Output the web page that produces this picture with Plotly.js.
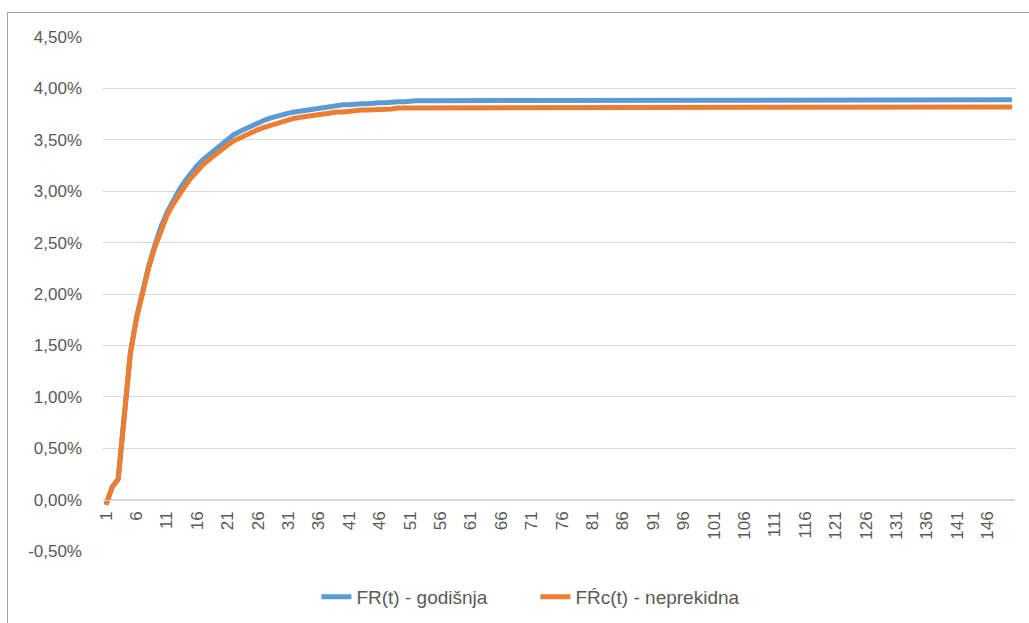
<!DOCTYPE html>
<html>
<head>
<meta charset="utf-8">
<script src="https://cdn.plot.ly/plotly-3.0.1.min.js"></script>
<style>
  html, body { margin: 0; padding: 0; width: 1029px; height: 623px; overflow: hidden; background: #ffffff; }
  #frame { position: absolute; left: 7px; top: 12px; width: 1100px; height: 700px; border: 1px solid #a6a6a6; box-sizing: border-box; }
  #chart { position: absolute; left: 0; top: 0; width: 1029px; height: 623px; }
</style>
</head>
<body>
<div id="frame"></div>
<div id="chart"></div>
<script>
// Series names
const seriesNames = ["FR(t) - godišnja", "FŔc(t) - neprekidna"];

// FR(t) - godišnja (values in %)
const frGodisnja = [
  -0.05, 0.12, 0.20, 0.86, 1.43, 1.77, 2.04, 2.27, 2.47, 2.65,
  2.79, 2.91, 3.01, 3.10, 3.18, 3.25, 3.31, 3.36, 3.41, 3.46,
  3.51, 3.55, 3.58, 3.61, 3.64, 3.67, 3.69, 3.71, 3.73, 3.75,
  3.76, 3.77, 3.78, 3.79, 3.80, 3.81, 3.82, 3.82, 3.83, 3.84,
  3.84, 3.85, 3.85, 3.85, 3.86, 3.86, 3.86, 3.87, 3.87, 3.87,
  3.88, 3.88, 3.88, 3.88, 3.89, 3.89, 3.89, 3.89, 3.89, 3.89,
  3.89, 3.89, 3.89, 3.89, 3.89, 3.89, 3.89, 3.89, 3.89, 3.89,
  3.89, 3.89, 3.89, 3.89, 3.89, 3.89, 3.89, 3.89, 3.89, 3.89,
  3.89, 3.89, 3.89, 3.89, 3.89, 3.89, 3.89, 3.89, 3.89, 3.89,
  3.89, 3.89, 3.89, 3.89, 3.89, 3.89, 3.89, 3.89, 3.89, 3.89,
  3.89, 3.89, 3.89, 3.89, 3.89, 3.89, 3.89, 3.89, 3.89, 3.89,
  3.89, 3.89, 3.89, 3.89, 3.89, 3.89, 3.89, 3.89, 3.89, 3.89,
  3.89, 3.89, 3.89, 3.89, 3.89, 3.89, 3.89, 3.89, 3.89, 3.89,
  3.89, 3.89, 3.89, 3.89, 3.89, 3.89, 3.89, 3.89, 3.89, 3.89,
  3.89, 3.89, 3.89, 3.89, 3.89, 3.89, 3.89, 3.89, 3.89, 3.89
];

// FŔc(t) - neprekidna (values in %)
const frcNeprekidna = [
  -0.05, 0.12, 0.20, 0.85, 1.42, 1.76, 2.02, 2.25, 2.45, 2.62,
  2.76, 2.87, 2.97, 3.05, 3.13, 3.20, 3.26, 3.31, 3.36, 3.41,
  3.45, 3.49, 3.52, 3.55, 3.58, 3.60, 3.62, 3.64, 3.66, 3.68,
  3.70, 3.71, 3.72, 3.73, 3.74, 3.75, 3.76, 3.76, 3.77, 3.77,
  3.78, 3.78, 3.79, 3.79, 3.79, 3.80, 3.80, 3.80, 3.81, 3.81,
  3.81, 3.81, 3.81, 3.81, 3.81, 3.82, 3.82, 3.82, 3.82, 3.82,
  3.82, 3.82, 3.82, 3.82, 3.82, 3.82, 3.82, 3.82, 3.82, 3.82,
  3.82, 3.82, 3.82, 3.82, 3.82, 3.82, 3.82, 3.82, 3.82, 3.82,
  3.82, 3.82, 3.82, 3.82, 3.82, 3.82, 3.82, 3.82, 3.82, 3.82,
  3.82, 3.82, 3.82, 3.82, 3.82, 3.82, 3.82, 3.82, 3.82, 3.82,
  3.82, 3.82, 3.82, 3.82, 3.82, 3.82, 3.82, 3.82, 3.82, 3.82,
  3.82, 3.82, 3.82, 3.82, 3.82, 3.82, 3.82, 3.82, 3.82, 3.82,
  3.82, 3.82, 3.82, 3.82, 3.82, 3.82, 3.82, 3.82, 3.82, 3.82,
  3.82, 3.82, 3.82, 3.82, 3.82, 3.82, 3.82, 3.82, 3.82, 3.82,
  3.82, 3.82, 3.82, 3.82, 3.82, 3.82, 3.82, 3.82, 3.82, 3.82
];

// Category (period) tick labels shown on the x axis
const xTickLabels = [1, 6, 11, 16, 21, 26, 31, 36, 41, 46, 51, 56, 61, 66, 71, 76,
  81, 86, 91, 96, 101, 106, 111, 116, 121, 126, 131, 136, 141, 146];

// Y axis ticks (%) and their labels
const yTickVals = [-0.5, 0, 0.5, 1, 1.5, 2, 2.5, 3, 3.5, 4, 4.5];
const yTickText = ["-0,50%", "0,00%", "0,50%", "1,00%", "1,50%", "2,00%",
  "2,50%", "3,00%", "3,50%", "4,00%", "4,50%"];

const periods = frGodisnja.map((_, i) => i + 1);

const FONT = "'Liberation Sans', Arial, sans-serif";
const TXT = "#595959";

const traces = [
  {
    x: periods, y: frGodisnja, name: seriesNames[0], type: "scatter", mode: "lines",
    line: { color: "#5B9BD5", width: 5 }
  },
  {
    x: periods, y: frcNeprekidna, name: seriesNames[1], type: "scatter", mode: "lines",
    line: { color: "#ED7D31", width: 5 }
  }
];

const layout = {
  width: 1029, height: 623,
  margin: { l: 103, r: 14, t: 37, b: 72, pad: 0 },
  paper_bgcolor: "rgba(0,0,0,0)",
  plot_bgcolor: "rgba(0,0,0,0)",
  font: { family: FONT, color: TXT, size: 17 },
  showlegend: true,
  legend: {
    orientation: "h", xref: "container", yref: "container",
    x: 0.3075, xanchor: "left", y: 0.042, yanchor: "middle",
    font: { family: FONT, size: 19, color: TXT },
    entrywidth: 174, entrywidthmode: "pixels",
    tracegroupgap: 0
  },
  xaxis: {
    range: [0.5, 150.5],
    tickmode: "array", tickvals: xTickLabels, ticktext: xTickLabels.map(String),
    tickangle: -90,
    tickfont: { family: FONT, size: 17, color: TXT },
    showgrid: false, zeroline: false,
    showline: true, linecolor: "#d9d9d9", linewidth: 1,
    ticks: "", ticklabelstandoff: 4,
    anchor: "free", position: 0.1
  },
  yaxis: {
    range: [-0.5, 4.5],
    tickmode: "array", tickvals: yTickVals, ticktext: yTickText,
    tickfont: { family: FONT, size: 17, color: TXT },
    showgrid: true, gridcolor: "#d9d9d9", gridwidth: 1,
    zeroline: false, showline: false, ticks: "",
    ticklabelstandoff: 20
  }
};

Plotly.newPlot("chart", traces, layout, { displayModeBar: false, staticPlot: true });
</script>
</body>
</html>
